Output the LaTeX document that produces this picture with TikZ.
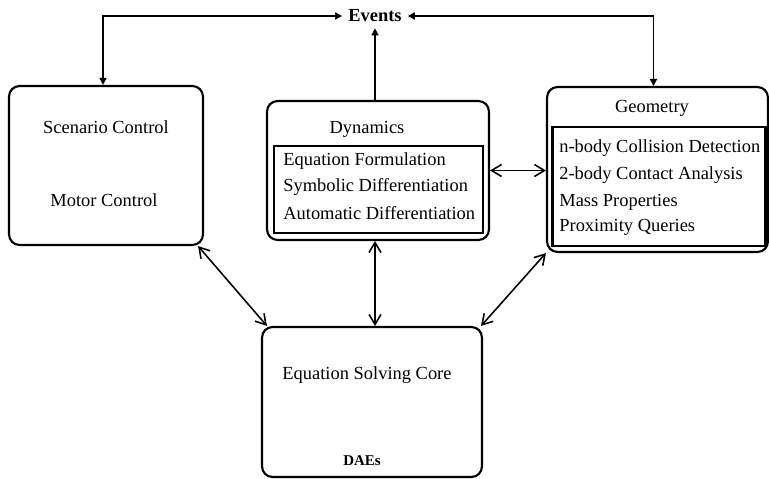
\documentclass[tikz,border=0pt]{standalone}
\usepackage{fontspec}
\setmainfont{Liberation Serif}
\usetikzlibrary{arrows.meta}

\begin{document}
\begin{tikzpicture}[x=0.02cm,y=-0.02cm,
  font=\fontsize{10.5}{12}\selectfont,
  blk/.style={draw,line width=1.2pt,rounded corners=6pt,inner sep=0pt},
  inblk/.style={draw,line width=1.2pt,inner sep=0pt},
  item/.style={anchor=west,inner sep=0pt},
  link/.style={line width=0.9pt,{Straight Barb[length=2mm,width=2.4mm]}-{Straight Barb[length=2mm,width=2.4mm]}},
  evlink/.style={line width=0.9pt,{Triangle[length=1.4mm,width=1.4mm]}-{Triangle[length=1.4mm,width=1.4mm]}},
  evup/.style={line width=0.9pt,-{Triangle[length=1.4mm,width=1.4mm]}}]
\useasboundingbox (0,0) rectangle (769,479);

% boxes
\node[blk,minimum width=3.88cm,minimum height=3.18cm] (scen) at (106,165.5) {};
\node[blk,minimum width=4.44cm,minimum height=2.78cm] (dyn) at (378,170.5) {};
\node[inblk,minimum width=4.18cm,minimum height=1.74cm] (dynin) at (378.5,189.5) {};
\node[blk,minimum width=4.42cm,minimum height=3.3cm] (geom) at (657.5,169.5) {};
\node[inblk,minimum width=4.26cm,minimum height=2.38cm] (geomin) at (659,186.5) {};
\node[blk,minimum width=4.4cm,minimum height=3.0cm] (esc) at (372,402) {};

% labels
\node[font=\fontsize{10.5}{12}\selectfont\bfseries] (events) at (375,16) {Events};
\node (scenlbl) at (106,127) {Scenario Control};
\node (motorlbl) at (104,200) {Motor Control};
\node (dynlbl) at (367,129) {Dynamics};
\node[item] (eqform) at (283,161) {Equation Formulation};
\node[item] (symdiff) at (283,187) {Symbolic Differentiation};
\node[item] (autodiff) at (283,213) {Automatic Differentiation};
\node (geomlbl) at (652,108) {Geometry};
\node[item] (collide) at (559,148) {n-body Collision Detection};
\node[item] (contact) at (559,175) {2-body Contact Analysis};
\node[item] (mass) at (559,202) {Mass Properties};
\node[item] (prox) at (559,227) {Proximity Queries};
\node (esclbl) at (367,375) {Equation Solving Core};
\node[font=\fontsize{8.5}{10}\selectfont\bfseries] (daes) at (362,461) {DAEs};

% events
\draw[evlink] (events.west) -| ([xshift=-0.06cm]scen.north);
\draw[evlink] (events.east) -| ([xshift=-0.08cm]geom.north);
\draw[evup] (events.south |- dyn.north) -- (events.south);

% data flow
\draw[link] (dyn.east) -- (dyn.east -| geom.west);
\draw[link] ([xshift=-0.12cm]scen.south east) -- ([xshift=0.12cm]esc.north west);
\draw[link] (events.south |- dyn.south) -- (events.south |- esc.north);
\draw[link] (geom.south west) -- ([xshift=-0.04cm]esc.north east);
\end{tikzpicture}
\end{document}
